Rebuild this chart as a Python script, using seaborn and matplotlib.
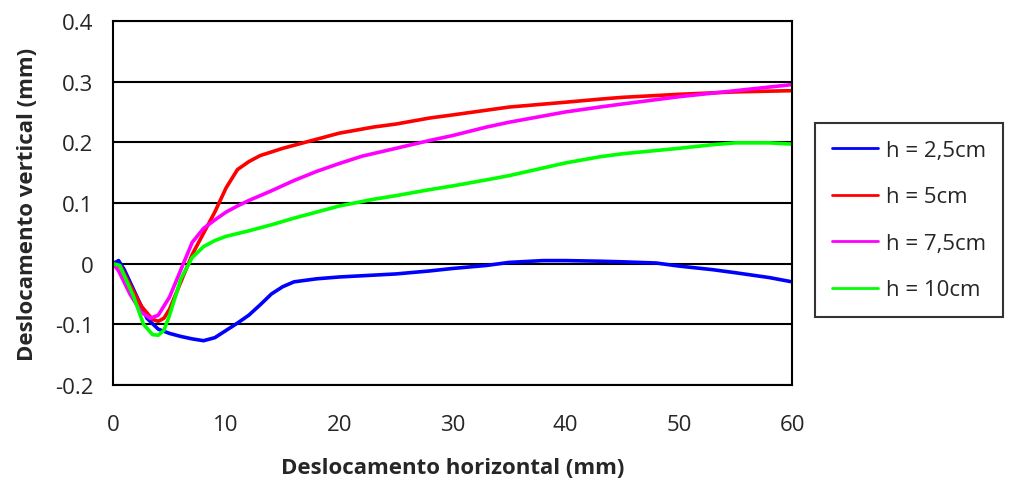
import matplotlib as mpl

mpl.use('Agg')
import pandas as pd
import matplotlib.pyplot as plt
import seaborn as sns

sns.set(style='white')
plt.rcParams['font.family'] = ['Open Sans', 'DejaVu Sans']

#### data ####
labels = ['h = 2,5cm', 'h = 5cm', 'h = 7,5cm', 'h = 10cm']
colors = ['#0000FF', '#FF0000', '#FF00FF', '#00FF00']

x_25 = [0, 0.5, 1, 2, 3, 4, 5, 6, 7, 8, 9, 10, 11, 12, 13, 14, 15, 16, 18, 20,
        22, 25, 28, 30, 33, 35, 38, 40, 43, 45, 48, 50, 53, 55, 58, 60]
y_25 = [0, 0.005, -0.01, -0.05, -0.09, -0.108, -0.115, -0.12, -0.124, -0.127,
        -0.122, -0.11, -0.098, -0.085, -0.068, -0.05, -0.038, -0.03, -0.025,
        -0.022, -0.02, -0.017, -0.012, -0.008, -0.003, 0.002, 0.005, 0.005,
        0.004, 0.003, 0.001, -0.004, -0.01, -0.015, -0.023, -0.03]

x_5 = [0, 0.7, 1.5, 2.5, 3.5, 4, 4.5, 5, 6, 7, 8, 9, 10, 11, 12, 13, 15, 18,
       20, 23, 25, 28, 30, 35, 40, 43, 45, 50, 55, 60]
y_5 = [0, -0.005, -0.035, -0.07, -0.092, -0.095, -0.09, -0.075, -0.03, 0.015,
       0.05, 0.085, 0.125, 0.155, 0.168, 0.178, 0.19, 0.205, 0.215, 0.225,
       0.23, 0.24, 0.245, 0.258, 0.266, 0.271, 0.274, 0.279, 0.283, 0.285]

x_75 = [0, 0.5, 1.5, 2.5, 3.3, 4, 5, 6, 7, 8, 9, 10, 11, 12, 14, 16, 18, 20,
        22, 25, 28, 30, 33, 35, 40, 43, 45, 50, 55, 60]
y_75 = [0, -0.012, -0.05, -0.08, -0.09, -0.085, -0.055, -0.01, 0.035, 0.058,
        0.072, 0.085, 0.095, 0.104, 0.12, 0.137, 0.152, 0.165, 0.177, 0.19,
        0.203, 0.211, 0.225, 0.233, 0.25, 0.258, 0.263, 0.275, 0.285, 0.295]

x_10 = [0, 0.6, 1.8, 2.7, 3.5, 4, 4.5, 5, 6, 7, 8, 9, 10, 12, 14, 16, 18, 20,
        23, 25, 28, 30, 33, 35, 40, 43, 45, 50, 53, 55, 58, 60]
y_10 = [0, -0.003, -0.053, -0.1, -0.117, -0.118, -0.11, -0.085, -0.025, 0.01,
        0.028, 0.038, 0.045, 0.054, 0.064, 0.075, 0.085, 0.095, 0.106, 0.112,
        0.122, 0.128, 0.138, 0.145, 0.166, 0.176, 0.181, 0.19, 0.196, 0.199,
        0.199, 0.197]

########################

frames = []
for lab, xs, ys in zip(labels, [x_25, x_5, x_75, x_10],
                       [y_25, y_5, y_75, y_10]):
    frames.append(pd.DataFrame({'x': xs, 'y': ys, 'serie': lab}))
df = pd.concat(frames, ignore_index=True)

fig = plt.figure(figsize=(10.15, 4.81), dpi=100)
ax = fig.add_axes([0.1113, 0.1975, 0.669, 0.757])

sns.lineplot(data=df, x='x', y='y', hue='serie', hue_order=labels,
             palette=dict(zip(labels, colors)), sort=False, lw=2.6,
             legend=False, ax=ax)

ax.set_xlim(0, 60)
ax.set_ylim(-0.2, 0.4)
ax.set_xticks(range(0, 61, 10))
ax.set_yticks([-0.2, -0.1, 0, 0.1, 0.2, 0.3, 0.4])
ax.set_yticklabels(['-0.2', '-0.1', '0', '0.1', '0.2', '0.3', '0.4'])
ax.yaxis.grid(True, color='black', lw=1.5)
ax.set_axisbelow(True)
for s in ax.spines.values():
    s.set_color('black')
    s.set_linewidth(1.5)
ax.tick_params(axis='both', which='major', direction='out', length=6,
               width=1.2, color='black', labelsize=16, pad=8)
ax.tick_params(axis='x', pad=15)

ax.set_xlabel('Deslocamento horizontal (mm)', fontsize=16, fontweight='bold',
              labelpad=16)
ax.set_ylabel('Deslocamento vertical (mm)', fontsize=16, fontweight='bold',
              labelpad=12)

handles = [plt.Line2D([], [], color=c, lw=2) for c in colors]
leg = fig.legend(handles, labels, loc='upper left',
                 bbox_to_anchor=(0.803, 0.742), fontsize=16,
                 handlelength=2.1, handletextpad=0.35, labelspacing=1.15,
                 borderpad=0.75, borderaxespad=0, fancybox=False,
                 frameon=True)
leg.get_frame().set_edgecolor('black')
leg.get_frame().set_linewidth(1.5)

plt.savefig('out.png', dpi=100)
